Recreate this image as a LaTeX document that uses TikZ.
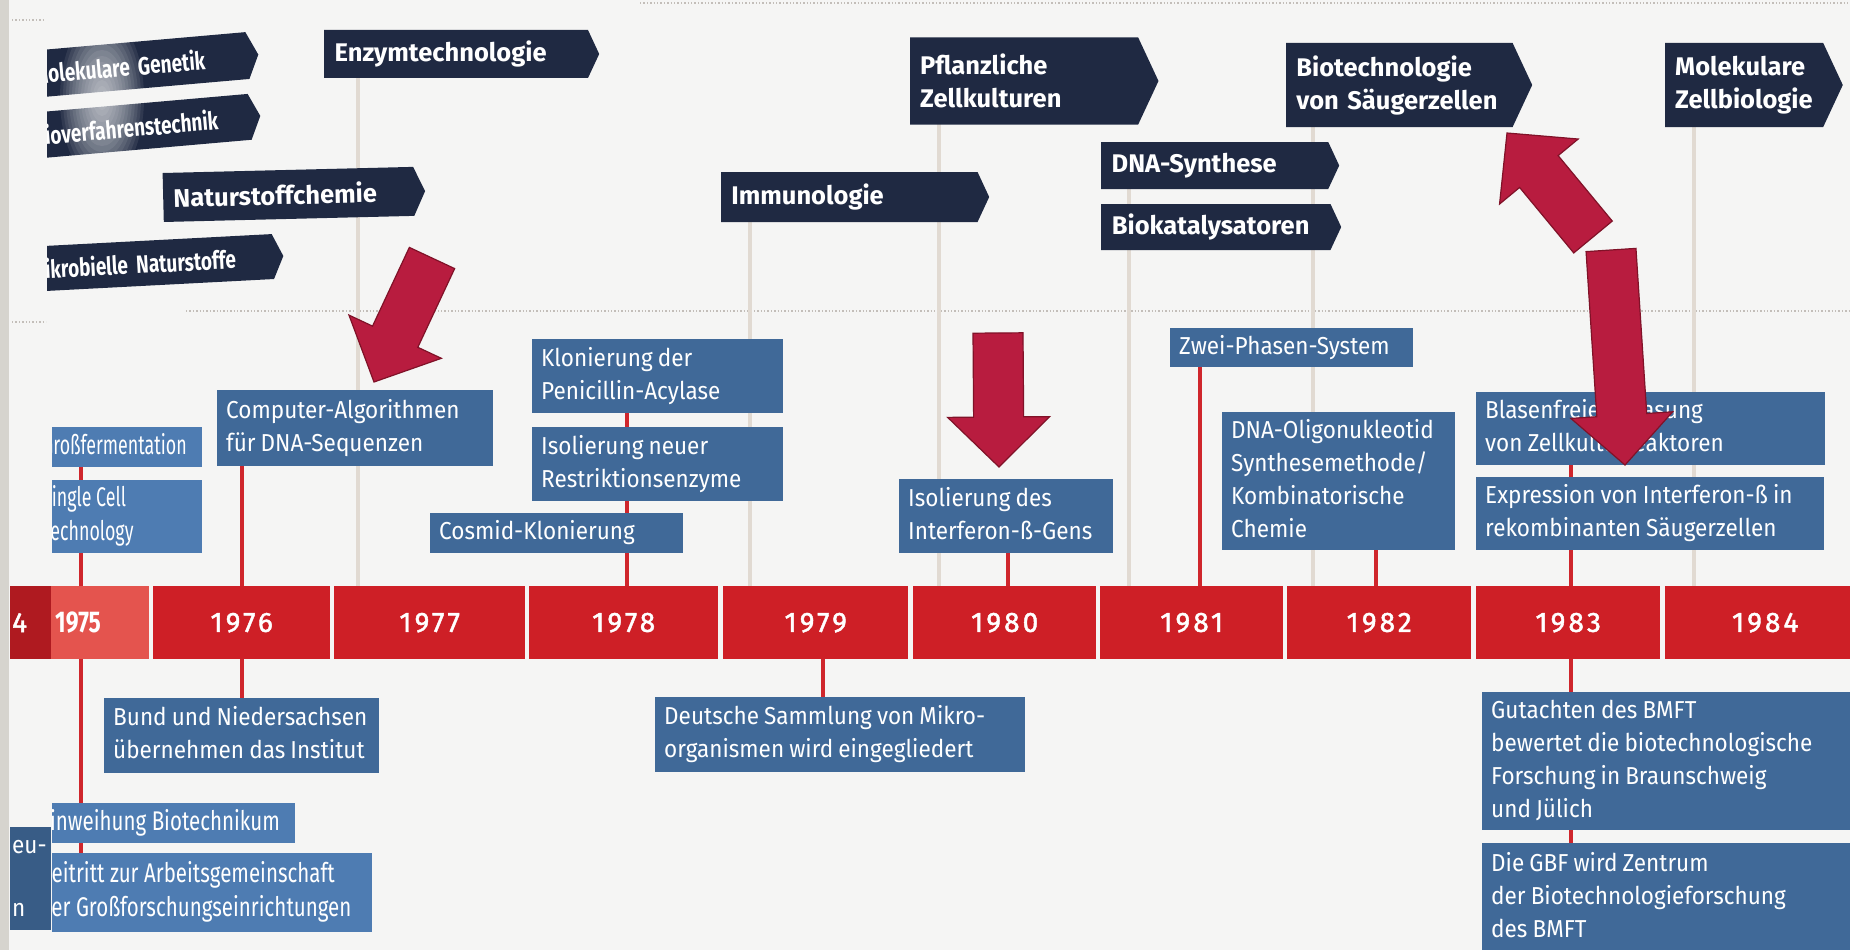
\documentclass[tikz,border=0pt]{standalone}
\usepackage{fontspec}
\setmainfont{Fira Sans}
\newfontfamily\boxsans{Fira Sans}[FakeStretch=0.92,WordSpace=0.85]
\newfontfamily\narrowsans{Fira Sans}[FakeStretch=0.76]
\newfontfamily\tightsans{Fira Sans}[FakeStretch=0.66]
\newfontfamily\yearsans{Fira Sans}[LetterSpace=11,FakeBold=1.6]
\usetikzlibrary{shapes.symbols,calc,backgrounds,positioning}
\definecolor{pagecol}{RGB}{245,245,244}
\definecolor{navycol}{RGB}{31,41,66}
\definecolor{boxcol}{RGB}{64,105,152}
\definecolor{paleboxcol}{RGB}{78,124,178}
\definecolor{yearcol}{RGB}{206,31,38}
\definecolor{paleyear}{RGB}{228,84,78}
\definecolor{stemcol}{RGB}{207,38,44}
\definecolor{guidecol}{RGB}{225,218,210}
\definecolor{arrowcol}{RGB}{184,28,63}
\definecolor{arrowedge}{RGB}{128,18,40}
\definecolor{stripcol}{RGB}{214,212,206}
\definecolor{dotcol}{RGB}{195,190,185}
\newcommand\evlines[2]{\makebox[#1][l]{\begin{tabular}{@{}l@{}}#2\end{tabular}}}

\begin{document}
\begin{tikzpicture}[
    x=1pt, y=-1pt,
    flag/.style={signal, signal to=east, signal pointer angle=130, fill=navycol, text=white, align=left, anchor=west, inner xsep=10pt, inner ysep=0pt, font=\bfseries\fontsize{25.5}{33}\selectfont},
    cutflag/.style={flag, inner xsep=8pt, font=\narrowsans\bfseries\fontsize{25}{33}\selectfont},
    evbox/.style={rectangle, fill=boxcol, text=white, anchor=north west, inner xsep=9pt, inner ysep=0pt, font=\boxsans\fontsize{24.5}{33}\selectfont},
    cutbox/.style={evbox, fill=paleboxcol, inner xsep=4pt, font=\narrowsans\fontsize{27}{34}\selectfont},
    yearcell/.style={rectangle, fill=yearcol, text=white, anchor=north west, minimum height=73pt, inner sep=0pt, font=\yearsans\fontsize{28}{28}\selectfont},
    stem/.style={draw=stemcol, line width=4pt},
    guide/.style={draw=guidecol, line width=4pt},
    dotline/.style={draw=dotcol, line width=1.4pt, dotted},
    bigarrow/.style={fill=arrowcol, draw=arrowedge, line width=1.2pt, line join=miter},
]
\useasboundingbox (0,0) rectangle (1850,950);
\begin{scope}[on background layer]
\fill[pagecol] (0,0) rectangle (1850,950);
\end{scope}

% research fields
\node[flag, minimum width=275pt, minimum height=48pt, text width=243pt] (enzym) at (324,54) {Enzymtechnologie};
\node[flag, rotate=1.4, minimum width=262pt, minimum height=49pt, text width=230pt] (natur) at (163,197.5) {Naturstoffchemie};
\node[flag, minimum width=268pt, minimum height=50pt, text width=236pt] (immuno) at (721,197) {Immunologie};
\node[flag, minimum width=248pt, minimum height=87pt, text width=208pt] (pflanz) at (910,81) {Pflanzliche\\Zellkulturen};
\node[flag, minimum width=238pt, minimum height=47pt, text width=206pt] (dnasyn) at (1101,165.5) {DNA-Synthese};
\node[flag, minimum width=240pt, minimum height=46pt, text width=208pt] (biokat) at (1101,227) {Biokatalysatoren};
\node[flag, minimum width=246pt, minimum height=84pt, text width=206pt] (saeuger) at (1286,85) {Biotechnologie\\von Säugerzellen};
\node[flag, minimum width=176pt, minimum height=84pt, text width=138pt] (zellbio) at (1665,85) {Molekulare\\Zellbiologie};
\begin{scope}
\clip (47,0) rectangle (420,350);
\node[cutflag, rotate=5, minimum width=234pt, minimum height=47pt, text width=207pt] (molgen) at (25,75) {Molekulare Genetik};
\node[cutflag, rotate=5, minimum width=236pt, minimum height=46pt, text width=209pt] (biover) at (25,136.5) {Bioverfahrenstechnik};
\node[cutflag, rotate=3, minimum width=261pt, minimum height=45pt, text width=235pt] (mikro) at (22,269.7) {Mikrobielle Naturstoffe};
\end{scope}
\foreach \r in {1,...,14}
  \fill[white, opacity=0.08] (102,98) ellipse ({3*\r} and {6*\r});

% events above the years
\node[evbox, minimum height=76pt] (comp) at (217,390) {\evlines{258pt}{Computer-Algorithmen\\für DNA-Sequenzen}};
\node[evbox, minimum height=74pt] (peni) at (532,339) {\evlines{233pt}{Klonierung der\\Penicillin-Acylase}};
\node[evbox, minimum height=74pt] (restr) at (532,427) {\evlines{233pt}{Isolierung neuer\\Restriktionsenzyme}};
\node[evbox, minimum height=40pt] (cosmid) at (430,513) {\evlines{235pt}{Cosmid-Klonierung}};
\node[evbox, minimum height=74pt] (interf) at (899,479) {\evlines{196pt}{Isolierung des\\Interferon-ß-Gens}};
\node[evbox, minimum height=39pt] (zwei) at (1170,328) {\evlines{225pt}{Zwei-Phasen-System}};
\node[evbox, minimum height=138pt] (oligo) at (1222,412) {\evlines{215pt}{DNA-Oligonukleotid\\Synthesemethode/\\Kombinatorische\\Chemie}};
\node[evbox, minimum height=73pt] (blasen) at (1476,392) {\evlines{331pt}{Blasenfreie Begasung\\von Zellkulturreaktoren}};
\node[evbox, minimum height=73pt] (expr) at (1476,477) {\evlines{330pt}{Expression von Interferon-ß in\\rekombinanten Säugerzellen}};

% events below the years
\node[evbox, minimum height=75pt] (bund) at (104,698) {\evlines{257pt}{Bund und Niedersachsen\\übernehmen das Institut}};
\node[evbox, minimum height=75pt] (dsm) at (655,697) {\evlines{352pt}{Deutsche Sammlung von Mikro-\\organismen wird eingegliedert}};
\node[evbox, minimum height=138pt] (gutachten) at (1482,692) {\evlines{362pt}{Gutachten des BMFT\\bewertet die biotechnologische\\Forschung in Braunschweig\\und Jülich}};
\node[evbox, minimum height=110pt] (gbf) at (1482,843) {\evlines{362pt}{Die GBF wird Zentrum\\der Biotechnologieforschung\\des BMFT}};
\node[evbox, fill=boxcol!88!black, inner xsep=2pt, minimum height=103pt] (eubox) at (10,827) {\evlines{37pt}{eu-\\[30pt]n}};
\begin{scope}
\clip (52,380) rectangle (420,950);
\node[cutbox, minimum height=40pt, font=\tightsans\fontsize{27}{34}\selectfont] (grossf) at (38,427) {\evlines{156pt}{Großfermentation}};
\node[cutbox, minimum height=73pt, font=\tightsans\fontsize{27}{34}\selectfont] (single) at (38,480) {\evlines{156pt}{Single Cell\\Technology}};
\node[cutbox, minimum height=40pt] (einweih) at (35,803) {\evlines{252pt}{Einweihung Biotechnikum}};
\node[cutbox, minimum height=79pt] (beitritt) at (35,853) {\evlines{329pt}{Beitritt zur Arbeitsgemeinschaft\\der Großforschungseinrichtungen}};
\end{scope}

% timeline
\node[yearcell, fill=yearcol!85!black, inner xsep=2pt] (y1974) at (10,586) {\makebox[37pt][l]{4}};
\node[yearcell, fill=paleyear, inner xsep=4pt, font=\narrowsans\bfseries\fontsize{30}{30}\selectfont] (y1975) at (51,586) {\makebox[90pt][l]{1975}};
\foreach \yr/\x/\w in {1976/153/177,1977/334/191,1978/529/189,1979/723/185,1980/913/183,1981/1100/183,1982/1287/184,1983/1476/184,1984/1665/200}
  \node[yearcell, minimum width=\w pt] (y\yr) at (\x,586) {\yr};

\begin{scope}[on background layer]
\draw[dotline] (186,311) -- (1850,311);
\draw[dotline] (640,3) -- (1850,3);
\draw[dotline] (12,20) -- (44,20);
\draw[dotline] (12,322) -- (46,322);
\coordinate (g77) at ([xshift=34pt]enzym.west);
\draw[guide] (g77) -- (g77 |- y1977.north);
\coordinate (g79) at ([xshift=29pt]immuno.west);
\draw[guide] (g79) -- (g79 |- y1979.north);
\coordinate (g80) at ([xshift=29pt]pflanz.west);
\draw[guide] (g80) -- (g80 |- y1980.north);
\coordinate (g81) at ([xshift=28pt]dnasyn.west);
\draw[guide] (g81) -- (g81 |- y1981.north);
\coordinate (g82) at ([xshift=27pt]saeuger.west);
\draw[guide] (g82) -- (g82 |- y1982.north);
\coordinate (g84) at ([xshift=29pt]zellbio.west);
\draw[guide] (g84) -- (g84 |- y1984.north);
\coordinate (s75) at ([xshift=-19pt]y1975.north);
\draw[stem] (s75) -- (s75 |- grossf.south);
\draw[stem] (s75 |- y1975.south) -- (s75 |- beitritt.north);
\draw[stem] (y1976.north) -- (y1976.north |- comp.south);
\draw[stem] (y1976.south) -- (y1976.south |- bund.north);
\coordinate (s78) at ([xshift=3pt]y1978.north);
\draw[stem] (s78) -- (s78 |- peni.south);
\coordinate (s79) at ([xshift=7pt]y1979.south);
\draw[stem] (s79) -- (s79 |- dsm.north);
\coordinate (s80) at ([xshift=3pt]y1980.north);
\draw[stem] (s80) -- (s80 |- interf.south);
\coordinate (s81) at ([xshift=8pt]y1981.north);
\draw[stem] (s81) -- (s81 |- zwei.south);
\coordinate (s82) at ([xshift=-3pt]y1982.north);
\draw[stem] (s82) -- (s82 |- oligo.south);
\coordinate (s83) at ([xshift=3pt]y1983.north);
\draw[stem] (s83) -- (s83 |- blasen.south);
\draw[stem] (s83 |- y1983.south) -- (s83 |- gbf.north);
\end{scope}

% highlight arrows
\foreach \tx/\ty/\px/\py [count=\i] in {432/258/374/382, 998/333/999/467, 1593/237/1507/133, 1611/250/1625/465}{
  \coordinate (at\i) at (\tx,\ty);
  \coordinate (ap\i) at (\px,\py);
  \coordinate (ah\i) at ($(ap\i)!50pt!(at\i)$);
  \draw[bigarrow] ($(at\i)!25pt!90:(ap\i)$) -- ($(ah\i)!25pt!90:(ap\i)$) -- ($(ah\i)!51pt!90:(ap\i)$) -- (ap\i)
    -- ($(ah\i)!51pt!-90:(ap\i)$) -- ($(ah\i)!25pt!-90:(ap\i)$) -- ($(at\i)!25pt!-90:(ap\i)$) -- cycle;
}
\fill[stripcol] (0,0) rectangle (9,950);
\end{tikzpicture}
\end{document}
